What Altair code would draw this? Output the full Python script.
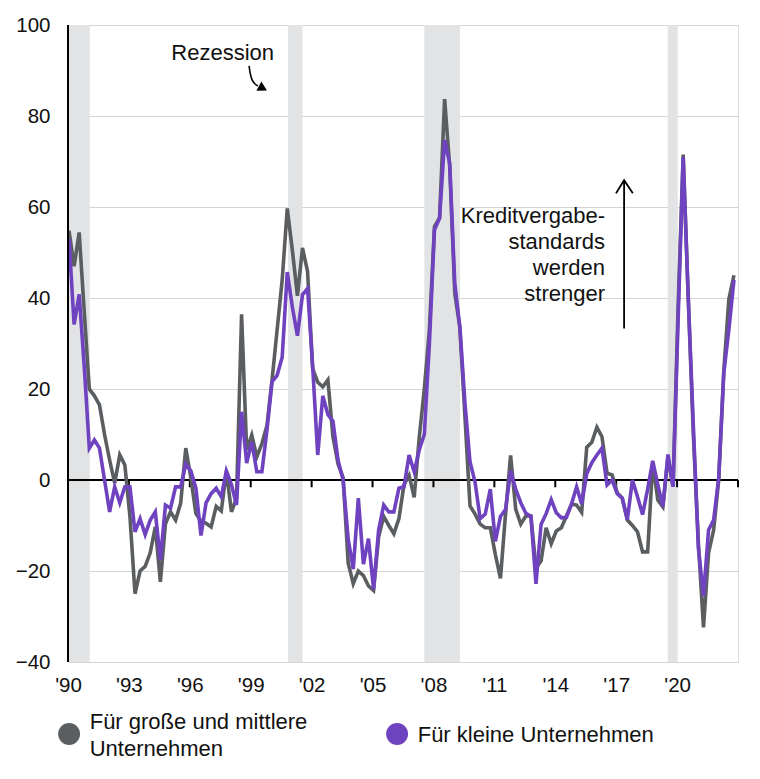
import altair as alt
import pandas as pd

# ---------------- data ----------------
START = 1990.05          # first survey quarter position on the time axis
STEP = 0.25              # quarterly

LARGE = "Für große und mittlere Unternehmen"
SMALL = "Für kleine Unternehmen"
LARGE_LINES = ["Für große und mittlere", "Unternehmen"]

large_vals = [
    54.8, 47, 54.4, 37, 20, 18.5, 16.5, 10, 4.4, -0.7,
    5.5, 3.3, -8, -25, -20, -19, -16, -10.3, -22.4, -9.6,
    -7, -8.8, -5.1, 7, 0.5, -7.4, -9, -9.5, -10.3, -5.8,
    -6.8, 2, -7, -4, 36.4, 6.6, 9.9, 5.1, 8, 12,
    22, 33, 44, 59.7, 50.5, 40.5, 51, 45.8, 24.5, 21.5,
    20.5, 22, 9.5, 3.5, 0.5, -18.3, -22.8, -20, -21, -23.3,
    -24.3, -12.5, -8, -10, -11.8, -8.5, -1, 1, -3.8, 9.3,
    20, 33, 55.7, 57.6, 83.7, 68.9, 41, 33.5, 14, -5.7,
    -7.5, -9.7, -10.5, -10.5, -16.4, -21.6, -7.5, 5.4, -6.4, -9.7,
    -7.9, -7.9, -19.3, -17.8, -10.5, -14, -11.2, -10.5, -7.9, -5.3,
    -5.5, -7.1, 7.2, 8.3, 11.6, 9.5, 1.5, 1.1, -2.8, -4,
    -8.8, -10, -11.4, -15.8, -15.8, 3.7, -4.4, -5.9, 5.1, -1.5,
    38, 71.5, 40, 10, -14, -32.4, -16, -11, 0, 24,
    39.7, 45,
]

small_vals = [
    53, 34.2, 40.8, 25, 7, 8.8, 7, 0, -7, -1.5,
    -5, -1.5, -1.5, -11.4, -8.5, -12, -8.8, -7, -17.6, -5.5,
    -6.2, -1.5, -1.5, 3.5, 2, -1.8, -12.2, -5, -3, -1.8,
    -3.7, 2, -1, -5.5, 15, 3.7, 8.4, 1.8, 1.8, 11,
    21.6, 23, 27, 45.7, 38, 31.7, 40.7, 42.1, 25, 5.5,
    18.5, 14.4, 12.9, 4.4, 0, -13, -19.6, -4, -18.5, -12.9,
    -24, -11, -5.5, -7, -7, -1.8, -1.5, 5.5, 1.8, 6.6,
    10, 30, 55, 57.5, 74.7, 69.6, 43.2, 33.7, 17, 4,
    -0.5, -8.5, -7.5, -2, -13.5, -8, -6.5, 2, -2, -5,
    -7.3, -8, -22.8, -9.8, -7.4, -4.3, -7.2, -8.3, -8.2, -5.3,
    -1.5, -5.3, 1.4, 3.8, 5.5, 7, -1.1, 0, -3, -4,
    -8.7, 0, -3.7, -7.6, -2, 4.2, -1, -5.9, 5.6, -1.5,
    35, 71, 40, 12, -15, -25.5, -11, -8.8, 0.5, 23.5,
    33, 44,
]

rec_start = [1990.0, 2000.84, 2007.55, 2019.54]
rec_end = [1991.07, 2001.55, 2009.31, 2020.03]

x_tick_values = [1990, 1993, 1996, 1999, 2002, 2005, 2008, 2011, 2014, 2017, 2020]
zero_tick_values = x_tick_values + [2023]
y_tick_values = [-40, -20, 0, 20, 40, 60, 80, 100]

X_DOMAIN = [1990, 2023]
Y_DOMAIN = [-40, 100]

# annotations
rez_text = "Rezession"
rez_pos = (1997.62, 92.3)
rez_curve_t = [1998.92, 1998.97, 1999.05, 1999.2, 1999.35]
rez_curve_v = [91.0, 89.3, 87.9, 87.0, 86.6]
rez_head = (1999.6, 86.1)

kredit_lines = ["Kreditvergabe-", "standards", "werden", "strenger"]
kredit_pos = (2016.45, 56.55)
arrow_t = 2017.39
arrow_v = (33.3, 65.9)
chev_t = [2016.99, 2017.39, 2017.82]
chev_v = [63.0, 65.9, 63.0]

# legend (hand-placed below the plot, pixel offsets from the plot origin)
legend_series = [LARGE, SMALL]
legend_sym_x = [1.1, 329.1]
legend_sym_y = [709, 709]
legend_text = [LARGE_LINES[0], LARGE_LINES[1], SMALL]
legend_text_x = [21.7, 21.7, 349.7]
legend_text_y = [704.3, 731.0, 716.7]

# ---------------- styling ----------------
GRAY = "#5b5e61"
PURPLE = "#6f43c0"
BAND = "#e2e3e5"
GRID = "#d4d4d4"
FONT = "Liberation Sans"
TXT = "#111111"

n = len(large_vals)
t_vals = [round(START + STEP * i, 4) for i in range(n)]
lines_df = pd.DataFrame({
    "t": t_vals + t_vals,
    "v": large_vals + small_vals,
    "s": [LARGE] * n + [SMALL] * n,
    "ord": list(range(n)) * 2,
})
rec_df = pd.DataFrame({"a": rec_start, "b": rec_end})
ticks_df = pd.DataFrame({"t": zero_tick_values})

xs = alt.Scale(domain=X_DOMAIN, nice=False, zero=False)
ys = alt.Scale(domain=Y_DOMAIN, nice=False, zero=False)
cs = alt.Scale(domain=[LARGE, SMALL], range=[GRAY, PURPLE])

x_axis = alt.Axis(values=x_tick_values, grid=False, domain=False, ticks=False,
                  labelFontSize=20.5, labelFont=FONT, labelColor=TXT, labelPadding=13,
                  labelExpr="\"'\" + slice(toString(datum.value), 2)", title=None,
                  labelFlush=False)
y_axis = alt.Axis(values=y_tick_values, grid=True, gridColor=GRID, gridWidth=1,
                  domain=False, ticks=False, labelFontSize=20.5, labelFont=FONT,
                  labelColor=TXT, labelPadding=18, title=None)

bands = alt.Chart(rec_df).mark_rect(color=BAND).encode(
    x=alt.X("a:Q", scale=xs, axis=x_axis),
    x2="b:Q",
    y=alt.Y(datum=100, scale=ys, axis=y_axis),
    y2=alt.Y2(datum=-40),
)

left_rule = alt.Chart(rec_df).mark_rule(color="black", strokeWidth=2).encode(
    x=alt.X(datum=1990, scale=xs),
    y=alt.Y(datum=-40, scale=ys),
    y2=alt.Y2(datum=100),
)

zero_rule = alt.Chart(rec_df).mark_rule(color="black", strokeWidth=2).encode(
    x=alt.X(datum=X_DOMAIN[0], scale=xs),
    x2=alt.X2(datum=X_DOMAIN[1]),
    y=alt.Y(datum=0, scale=ys),
)

zero_ticks = alt.Chart(ticks_df).mark_rule(color="black", strokeWidth=2).encode(
    x=alt.X("t:Q", scale=xs),
    y=alt.Y(datum=0, scale=ys),
    y2=alt.Y2(datum=-1.6),
)

series = alt.Chart(lines_df).mark_line(strokeWidth=3.6, strokeJoin="miter").encode(
    x=alt.X("t:Q", scale=xs),
    y=alt.Y("v:Q", scale=ys),
    color=alt.Color("s:N", scale=cs, legend=None),
    order="ord:Q",
)

rez_df = pd.DataFrame({"t": [rez_pos[0]], "v": [rez_pos[1]], "label": [rez_text]})
rez_label = alt.Chart(rez_df).mark_text(font=FONT, fontSize=22, color=TXT,
                                        align="center", baseline="alphabetic").encode(
    x=alt.X("t:Q", scale=xs), y=alt.Y("v:Q", scale=ys), text="label:N")

curve_df = pd.DataFrame({"t": rez_curve_t, "v": rez_curve_v, "o": list(range(len(rez_curve_t)))})
rez_curve = alt.Chart(curve_df).mark_line(color="black", strokeWidth=1.6,
                                          interpolate="basis").encode(
    x=alt.X("t:Q", scale=xs), y=alt.Y("v:Q", scale=ys), order="o:Q")

head_df = pd.DataFrame({"t": [rez_head[0]], "v": [rez_head[1]]})
rez_headmark = alt.Chart(head_df).mark_point(shape="triangle-right", filled=True,
                                             color="black", size=110, angle=28,
                                             opacity=1).encode(
    x=alt.X("t:Q", scale=xs), y=alt.Y("v:Q", scale=ys))

kredit_df = pd.DataFrame({"t": [kredit_pos[0]], "v": [kredit_pos[1]]})
kredit_label = alt.Chart(kredit_df).mark_text(font=FONT, fontSize=22, color=TXT,
                                              align="right", baseline="alphabetic",
                                              lineHeight=26, text=kredit_lines).encode(
    x=alt.X("t:Q", scale=xs), y=alt.Y("v:Q", scale=ys))

arrow_df = pd.DataFrame({"t": [arrow_t], "a": [arrow_v[0]], "b": [arrow_v[1]]})
arrow_shaft = alt.Chart(arrow_df).mark_rule(color="black", strokeWidth=1.8).encode(
    x=alt.X("t:Q", scale=xs), y=alt.Y("a:Q", scale=ys), y2="b:Q")

chev_df = pd.DataFrame({"t": chev_t, "v": chev_v, "o": [0, 1, 2]})
arrow_head = alt.Chart(chev_df).mark_line(color="black", strokeWidth=1.8).encode(
    x=alt.X("t:Q", scale=xs), y=alt.Y("v:Q", scale=ys), order="o:Q")

leg_sym_df = pd.DataFrame({"s": legend_series, "px": legend_sym_x, "py": legend_sym_y})
leg_symbols = alt.Chart(leg_sym_df).mark_point(filled=True, size=480, opacity=1,
                                               shape="circle", strokeWidth=0).encode(
    x=alt.X("px:Q", scale=None), y=alt.Y("py:Q", scale=None),
    color=alt.Color("s:N", scale=cs, legend=None),
)

leg_txt_df = pd.DataFrame({"label": legend_text, "px": legend_text_x, "py": legend_text_y})
leg_texts = alt.Chart(leg_txt_df).mark_text(font=FONT, fontSize=22, color=TXT,
                                            align="left", baseline="alphabetic").encode(
    x=alt.X("px:Q", scale=None), y=alt.Y("py:Q", scale=None), text="label:N")

chart = alt.layer(
    bands, zero_rule, zero_ticks, series, left_rule,
    rez_label, rez_curve, rez_headmark, kredit_label, arrow_shaft, arrow_head,
    leg_symbols, leg_texts,
).properties(
    width=670, height=637,
    autosize=alt.AutoSizeParams(type="none"),
    padding={"left": 60, "top": 17, "right": 14, "bottom": 109},
).configure_view(stroke=None).configure(font=FONT)

chart.save("out.html", embed_options={"renderer": "svg", "actions": False})
